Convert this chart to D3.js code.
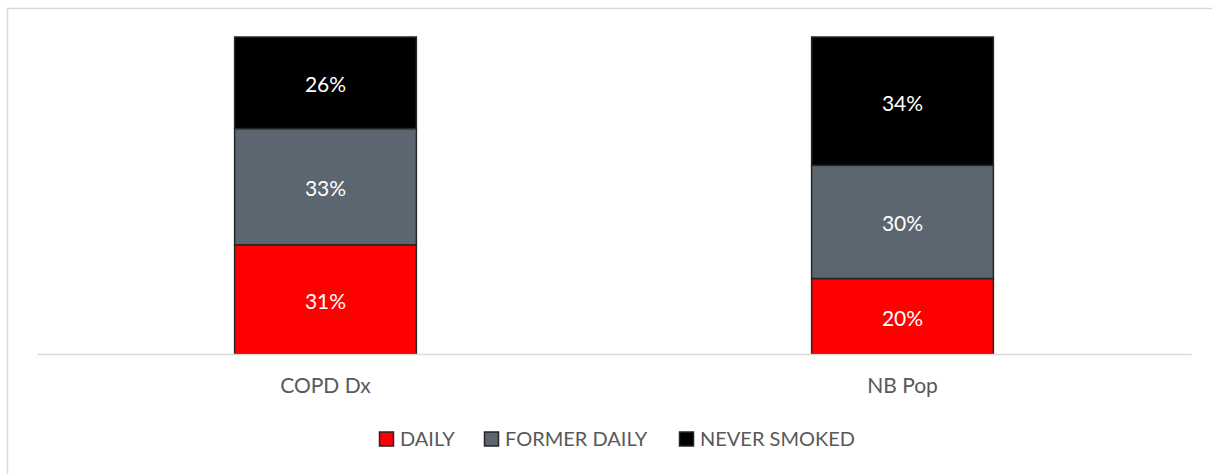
<!DOCTYPE html>
<html>
<head>
<meta charset="utf-8">
<script src="https://cdn.jsdelivr.net/npm/d3@7"></script>
<style>
  html, body { margin: 0; padding: 0; background: #fff; overflow: hidden; }
  svg { display: block; }
  text { font-family: Lato, "Open Sans", sans-serif; }
</style>
</head>
<body>
<svg id="chart" width="1212" height="474"></svg>
<script>
const categories = ["COPD Dx", "NB Pop"];
const seriesNames = ["DAILY", "FORMER DAILY", "NEVER SMOKED"];
const daily = [31, 20];
const formerDaily = [33, 30];
const neverSmoked = [26, 34];
const colors = ["#ff0000", "#5b6670", "#000000"];

const W = 1212, H = 474;
const svg = d3.select("#chart");

// chart area border (only top and left edges fall inside the picture)
svg.append("rect")
  .attr("x", 7.5).attr("y", 8.5)
  .attr("width", W + 20).attr("height", H + 20)
  .attr("fill", "#fff").attr("stroke", "#d9d9d9").attr("stroke-width", 1.5);

const plot = { left: 37, right: 1191, top: 37, bottom: 354 };

const rows = categories.map((c, i) => ({
  cat: c,
  "DAILY": daily[i],
  "FORMER DAILY": formerDaily[i],
  "NEVER SMOKED": neverSmoked[i]
}));

const stack = d3.stack().keys(seriesNames).offset(d3.stackOffsetExpand);
const layers = stack(rows);

const x = d3.scaleBand().domain(categories).range([plot.left, plot.right]).padding(0);
const barW = x.bandwidth() * 0.315;
const y = d3.scaleLinear().domain([0, 1]).range([plot.bottom, plot.top]);

const g = svg.append("g");
layers.forEach((layer, li) => {
  const lg = g.append("g");
  lg.selectAll("rect").data(layer).enter().append("rect")
    .attr("x", d => x(d.data.cat) + x.bandwidth() / 2 - barW / 2)
    .attr("y", d => y(d[1]))
    .attr("width", barW)
    .attr("height", d => y(d[0]) - y(d[1]))
    .attr("fill", colors[li])
    .attr("stroke", "#262626")
    .attr("stroke-width", 1.5);
});

// axis line
const axis = d3.axisBottom(x).tickSize(0).tickPadding(24);
const ax = svg.append("g").attr("transform", `translate(0,${plot.bottom})`).call(axis);
ax.select(".domain").attr("stroke", "#d9d9d9").attr("stroke-width", 1.5);
ax.selectAll("text")
  .attr("fill", "#595959")
  .style("font-size", "21px")
  .style("font-family", "Lato, 'Open Sans', sans-serif");

// data labels
layers.forEach((layer, li) => {
  g.append("g").selectAll("text").data(layer).enter().append("text")
    .attr("x", d => x(d.data.cat) + x.bandwidth() / 2)
    .attr("y", d => (y(d[0]) + y(d[1])) / 2)
    .attr("dy", "0.45em")
    .attr("text-anchor", "middle")
    .attr("fill", "#ffffff")
    .style("font-size", "21px")
    .text(d => d.data[layer.key] + "%");
});

// legend
const legendY = 439;
const legendStarts = [379, 484, 679];
const lg = svg.append("g");
seriesNames.forEach((name, i) => {
  const item = lg.append("g").attr("transform", `translate(${legendStarts[i]},${legendY})`);
  item.append("rect")
    .attr("x", 0.5).attr("y", -7)
    .attr("width", 14).attr("height", 14)
    .attr("fill", colors[i])
    .attr("stroke", "#262626").attr("stroke-width", 1.5);
  item.append("text")
    .attr("x", 21).attr("y", 0).attr("dy", "0.37em")
    .attr("fill", "#595959")
    .style("font-size", "20px")
    .text(name);
});
</script>
</body>
</html>
